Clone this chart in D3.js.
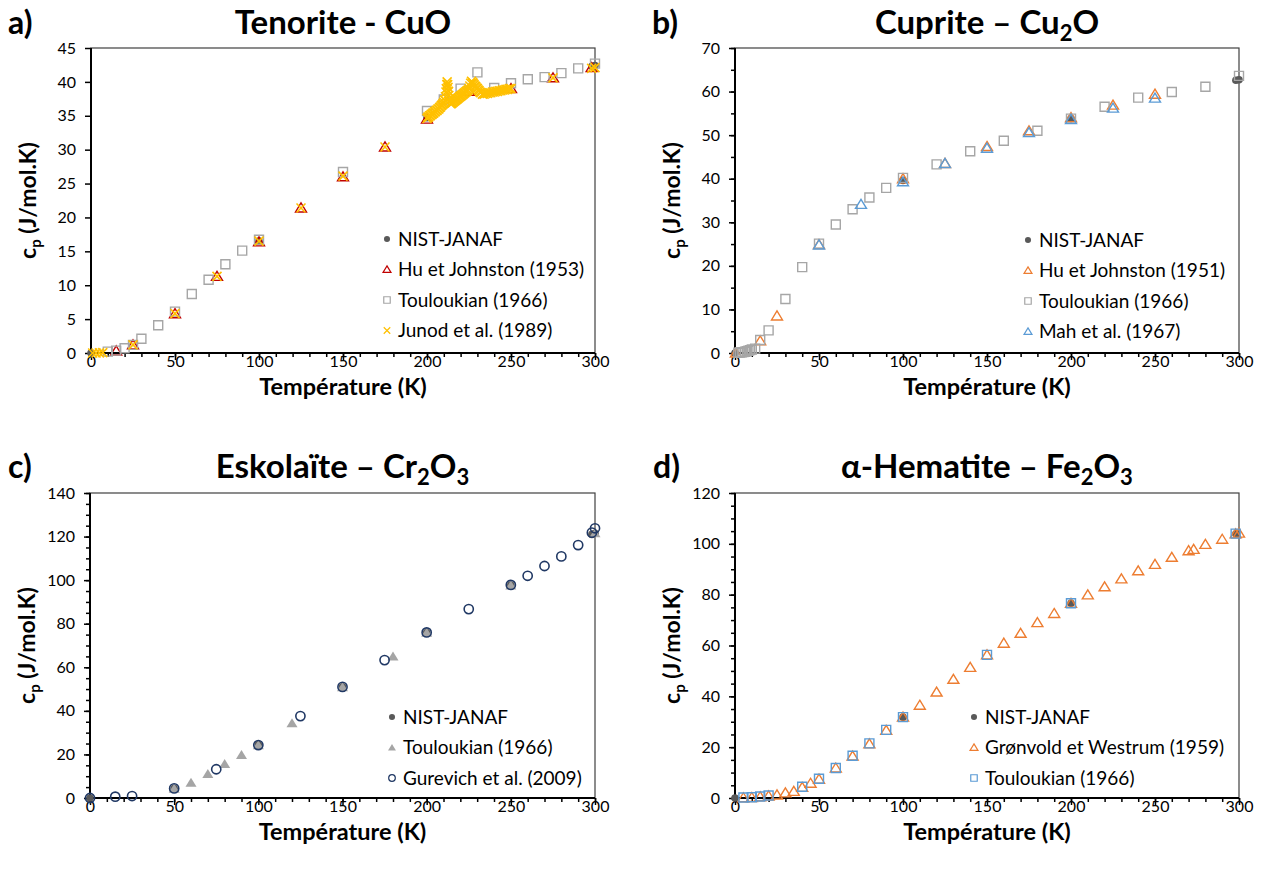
<!DOCTYPE html>
<html>
<head>
<meta charset="utf-8">
<script src="https://cdn.jsdelivr.net/npm/d3@7"></script>
<style>
  body { margin: 0; background: #fff; }
  text { font-family: Lato, "Open Sans", sans-serif; fill: #000; }
</style>
</head>
<body>
<script>
// cp (J/mol.K) against temperature (K): [T, cp]

// a) Tenorite - CuO
let cuoNist = [[0, 0], [100, 16.5], [200, 34.7], [298.15, 42.3], [300, 42.4]];
let cuoHu = [[15, 0.3], [25, 1.2], [50, 5.8], [75, 11.3], [100, 16.4], [125, 21.4], [150, 26.0],
  [175, 30.4], [200, 34.5], [225, 38.6], [250, 39.0], [275, 40.6], [298, 42.1]];
let cuoTouloukian = [[10, 0.2], [15, 0.35], [20, 0.7], [25, 1.2], [30, 2.1], [40, 4.1], [50, 6.1],
  [60, 8.7], [70, 10.8], [80, 13.1], [90, 15.1], [100, 16.7], [150, 26.7], [200, 35.7], [210, 37.4],
  [220, 39.0], [230, 41.4], [240, 39.1], [250, 39.8], [260, 40.4], [270, 40.7], [280, 41.3],
  [290, 42.0], [300, 42.7]];
let cuoJunod = [[1, 0], [3, 0], [5, 0.02], [7, 0.05], [25, 1.2], [50, 5.8], [75, 11.3], [100, 16.5],
  [125, 21.4], [150, 26.1], [175, 30.4],
  [200, 34.6], [200.5, 34.8], [201, 34.8], [201.5, 35.0], [202, 35.0], [202.5, 35.2], [203, 35.2],
  [203.5, 35.4], [204, 35.4], [204.5, 35.6], [205, 35.6], [205.5, 35.8], [206, 35.8], [206.5, 36.0],
  [207, 36.0], [207.5, 36.2], [208, 36.3], [208.5, 36.5], [209, 36.6], [209.5, 36.8], [210, 37.0],
  [210.5, 37.3], [211, 37.8], [211.3, 38.5], [211.5, 39.0], [211.8, 39.6], [212, 40.0],
  [212.3, 39.6], [212.5, 39.2], [212.8, 38.6], [213, 38.0], [213.5, 37.2], [214, 36.8],
  [214.5, 36.8], [215, 36.9], [215.5, 37.0], [216, 37.1], [216.5, 37.2], [217, 37.3], [217.5, 37.4],
  [218, 37.5], [218.5, 37.6], [219, 37.7], [219.5, 37.8], [220, 37.9], [220.5, 38.0], [221, 38.1],
  [221.5, 38.2], [222, 38.3], [222.5, 38.4], [223, 38.5], [223.5, 38.6], [224, 38.7], [224.5, 38.8],
  [225, 39.0], [225.5, 39.4], [226, 39.8], [226.5, 40.1], [227, 39.9], [227.5, 39.8], [228, 39.6],
  [228.5, 39.4], [229, 39.3], [229.5, 39.1], [230, 39.0], [230.5, 38.8], [231, 38.7], [231.5, 38.5],
  [232, 38.4], [233, 38.2], [234, 38.2], [235, 38.3], [236, 38.3], [237, 38.4], [238, 38.4],
  [239, 38.5], [240, 38.5], [241, 38.6], [242, 38.6], [243, 38.7], [244, 38.7], [245, 38.8],
  [246, 38.8], [247, 38.9], [248, 38.9], [249, 39.0], [250, 39.0],
  [275, 40.6], [298, 42.0], [300, 42.1]];

// b) Cuprite - Cu2O
let cu2oNist = [[0, 0], [100, 39.6], [200, 53.8], [298.15, 62.6], [300, 62.7]];
let cu2oHu = [[0.5, 0], [15, 2.8], [25, 8.5], [50, 24.9], [100, 40.0], [125, 43.5], [150, 47.4],
  [175, 51.0], [200, 54.0], [225, 56.9], [250, 59.4]];
let cu2oTouloukian = [[2, 0.05], [3, 0.1], [4, 0.15], [5, 0.2], [6, 0.3], [7, 0.4], [8, 0.5],
  [9, 0.65], [10, 0.8], [12, 1.0], [15, 3.0], [20, 5.2], [30, 12.4], [40, 19.7], [50, 25.1],
  [60, 29.5], [70, 33.0], [80, 35.7], [90, 37.9], [100, 40.2], [120, 43.3], [140, 46.3],
  [160, 48.7], [180, 51.0], [200, 53.8], [220, 56.5], [240, 58.6], [260, 59.9], [280, 61.1],
  [300, 63.6]];
let cu2oMah = [[50, 24.8], [75, 34.1], [100, 39.3], [125, 43.5], [150, 47.0], [175, 50.6],
  [200, 53.6], [225, 56.2], [250, 58.5]];

// c) Eskolaïte - Cr2O3
let cr2o3Nist = [[0, 0], [50, 4.4], [100, 24.5], [150, 51.0], [200, 76.0], [250, 97.8],
  [298.15, 121.0], [300, 121.5]];
let cr2o3Touloukian = [[50, 4.2], [60, 7.0], [70, 11.0], [80, 15.6], [90, 19.7], [100, 24.2],
  [120, 34.3], [150, 50.8], [180, 64.9], [200, 75.8], [250, 97.5], [300, 121.5]];
let cr2o3Gurevich = [[0, 0], [15, 0.6], [25, 0.9], [50, 4.4], [75, 13.2], [100, 24.3], [125, 37.6],
  [150, 51.0], [175, 63.3], [200, 76.0], [225, 86.7], [250, 97.8], [260, 102.0], [270, 106.5],
  [280, 110.9], [290, 116.1], [298.15, 121.8], [300, 123.8]];

// d) alpha-Hematite - Fe2O3
let fe2o3Nist = [[0, 0], [100, 31.8], [200, 76.6], [298.15, 103.9]];
let fe2o3Gronvold = [[5, 0.1], [10, 0.2], [15, 0.5], [20, 0.8], [25, 1.2], [30, 2.0], [35, 2.6],
  [40, 4.2], [45, 5.8], [50, 7.4], [60, 11.8], [70, 16.5], [80, 21.3], [90, 26.6], [100, 31.8],
  [110, 36.5], [120, 41.7], [130, 46.7], [140, 51.4], [150, 56.3], [160, 60.9], [170, 64.8],
  [180, 69.0], [190, 72.6], [200, 76.6], [210, 79.9], [220, 83.1], [230, 86.2], [240, 89.4],
  [250, 91.9], [260, 94.7], [270, 97.3], [273, 97.8], [280, 99.8], [290, 101.8], [298, 103.9],
  [300, 104.2]];
let fe2o3Touloukian = [[5, 0.2], [10, 0.3], [15, 0.6], [20, 1.0], [40, 4.4], [50, 7.6], [60, 11.8],
  [70, 16.6], [80, 21.5], [90, 26.8], [100, 31.8], [150, 56.3], [200, 76.6], [298, 104.0]];

let xTicks = [0, 50, 100, 150, 200, 250, 300];

// marker shapes, centred on 0,0
function markerPath(shape, k) {
  if (shape == "triangle") return `M0,${-5 * k}L${5.5 * k},${4 * k}L${-5.5 * k},${4 * k}Z`;
  if (shape == "square") return `M${-4.5 * k},${-4.5 * k}h${9 * k}v${9 * k}h${-9 * k}Z`;
  if (shape == "x") return `M${-4.5 * k},${-4.5 * k}L${4.5 * k},${4.5 * k}M${4.5 * k},${-4.5 * k}L${-4.5 * k},${4.5 * k}`;
  let r = (shape == "ring" ? 4.6 : 3.8) * k;
  return `M${r},0A${r},${r} 0 1,1 ${-r},0A${r},${r} 0 1,1 ${r},0Z`;
}

let nist = {name: "NIST-JANAF", shape: "dot", stroke: "none", fill: "#595959"};

let panels = [
  {left: 91, top: 48, width: 504, height: 305, yMax: 45, yMajor: 5, yMinor: 0,
   letter: "a)", title: [["Tenorite - CuO", 0]], row: 0,
   legend: {x: 296, y: 191, dy: 30.5},
   series: [
     Object.assign({data: cuoNist}, nist),
     {name: "Hu et Johnston (1953)", data: cuoHu, shape: "triangle", stroke: "#C00000", fill: "none"},
     {name: "Touloukian (1966)", data: cuoTouloukian, shape: "square", stroke: "#A6A6A6", fill: "none"},
     {name: "Junod et al. (1989)", data: cuoJunod, shape: "x", stroke: "#FFC000", fill: "none"}]},
  {left: 735, top: 48, width: 504, height: 305, yMax: 70, yMajor: 10, yMinor: 5,
   letter: "b)", title: [["Cuprite – Cu", 0], ["2", 1], ["O", 0]], row: 0,
   legend: {x: 293, y: 192, dy: 30.5},
   series: [
     Object.assign({data: cu2oNist}, nist),
     {name: "Hu et Johnston (1951)", data: cu2oHu, shape: "triangle", stroke: "#ED7D31", fill: "none"},
     {name: "Touloukian (1966)", data: cu2oTouloukian, shape: "square", stroke: "#A6A6A6", fill: "none"},
     {name: "Mah et al. (1967)", data: cu2oMah, shape: "triangle", stroke: "#5B9BD5", fill: "none"}]},
  {left: 90, top: 493, width: 505, height: 305, yMax: 140, yMajor: 20, yMinor: 5,
   letter: "c)", title: [["Eskolaïte – Cr", 0], ["2", 1], ["O", 0], ["3", 1]], row: 1,
   legend: {x: 302, y: 224, dy: 30.5},
   series: [
     Object.assign({data: cr2o3Nist}, nist),
     {name: "Touloukian (1966)", data: cr2o3Touloukian, shape: "triangle", stroke: "none", fill: "#A5A5A5"},
     {name: "Gurevich et al. (2009)", data: cr2o3Gurevich, shape: "ring", stroke: "#203864", fill: "none"}]},
  {left: 735, top: 493, width: 504, height: 305, yMax: 120, yMajor: 20, yMinor: 5,
   letter: "d)", title: [["α-Hematite – Fe", 0], ["2", 1], ["O", 0], ["3", 1]], row: 1,
   legend: {x: 239, y: 224, dy: 30.5},
   series: [
     Object.assign({data: fe2o3Nist}, nist),
     {name: "Grønvold et Westrum (1959)", data: fe2o3Gronvold, shape: "triangle", stroke: "#ED7D31", fill: "none"},
     {name: "Touloukian (1966)", data: fe2o3Touloukian, shape: "square", stroke: "#5B9BD5", fill: "none"}]}
];

let svg = d3.select("body").append("svg")
  .attr("width", 1266)
  .attr("height", 872);

panels.forEach(function(p) {
  let x = d3.scaleLinear().domain([0, 300]).range([0, p.width]);
  let y = d3.scaleLinear().domain([0, p.yMax]).range([p.height, 0]);

  let g = svg.append("g")
    .attr("transform", "translate(" + p.left + "," + p.top + ")");

  // plot frame (thin top / right)
  g.append("rect")
    .attr("width", p.width).attr("height", p.height)
    .attr("fill", "none").attr("stroke", "#404040").attr("stroke-width", 1.2);

  // x axis: minor every 10, major every 50
  g.append("g")
    .attr("transform", "translate(0," + p.height + ")")
    .call(d3.axisBottom(x).tickValues(d3.range(0, 301, 10)).tickSize(4).tickFormat(""))
    .call(a => a.select(".domain").remove());
  g.append("g")
    .attr("transform", "translate(0," + p.height + ")")
    .call(d3.axisBottom(x).tickValues(xTicks).tickSize(7))
    .call(a => a.select(".domain").remove())
    .call(a => a.selectAll(".tick text").attr("y", 3));   // labels sit tight under the axis

  // y axis
  if (p.yMinor) {
    g.append("g")
      .call(d3.axisLeft(y).tickValues(d3.range(0, p.yMax + 0.1, p.yMinor)).tickSize(4).tickFormat(""))
      .call(a => a.select(".domain").remove());
  }
  g.append("g")
    .call(d3.axisLeft(y).tickValues(d3.range(0, p.yMax + 0.1, p.yMajor)).tickSize(6).tickPadding(9))
    .call(a => a.select(".domain").remove());

  g.selectAll(".tick line").attr("stroke", "#000").attr("stroke-width", 1.5);
  g.selectAll(".tick text")
    .attr("font-family", "Lato, sans-serif")
    .attr("font-size", 16)
    .attr("fill", "#000");

  // thick left / bottom axis lines
  g.append("line").attr("x1", 0).attr("x2", 0).attr("y1", 0).attr("y2", p.height)
    .attr("stroke", "#000").attr("stroke-width", 2);
  g.append("line").attr("x1", 0).attr("x2", p.width).attr("y1", p.height).attr("y2", p.height)
    .attr("stroke", "#000").attr("stroke-width", 2);

  // data points
  p.series.forEach(function(s) {
    g.append("g").selectAll("path")
      .data(s.data)
      .join("path")
      .attr("transform", d => "translate(" + x(d[0]) + "," + y(d[1]) + ")")
      .attr("d", markerPath(s.shape, 1))
      .attr("fill", s.fill)
      .attr("stroke", s.stroke)
      .attr("stroke-width", s.shape == "ring" ? 1.6 : (s.shape == "x" ? 1.6 : 1.4));
  });

  // legend
  let lg = g.append("g")
    .attr("transform", "translate(" + p.legend.x + "," + p.legend.y + ")");
  p.series.forEach(function(s, i) {
    lg.append("path")
      .attr("transform", "translate(0," + (i * p.legend.dy) + ")")
      .attr("d", markerPath(s.shape, s.shape == "dot" ? 0.8 : 0.72))
      .attr("fill", s.fill)
      .attr("stroke", s.stroke)
      .attr("stroke-width", 1.2);
    lg.append("text")
      .attr("x", 11)
      .attr("y", i * p.legend.dy)
      .attr("dy", "0.35em")
      .attr("font-size", 19)
      .attr("fill", "#1a1a1a")
      .text(s.name);
  });

  // panel letter and title
  let base = p.row == 0 ? 34 : 478;
  svg.append("text")
    .attr("x", p.left - 83 + (p.row == 0 ? 0 : 1))
    .attr("y", base)
    .attr("font-size", 32)
    .attr("font-weight", "bold")
    .text(p.letter);
  let t = svg.append("text")
    .attr("x", p.left + p.width / 2)
    .attr("y", base)
    .attr("text-anchor", "middle")
    .attr("font-size", 33)
    .attr("font-weight", "bold");
  let down = 0;
  p.title.forEach(function(seg) {
    let shift = seg[1] ? 7 : 0;
    t.append("tspan")
      .attr("dy", shift - down)
      .attr("font-size", seg[1] ? 22 : 33)
      .text(seg[0]);
    down = shift;
  });

  // axis titles
  svg.append("text")
    .attr("x", p.left + p.width / 2)
    .attr("y", p.top + p.height + 42)
    .attr("text-anchor", "middle")
    .attr("font-size", 23.5)
    .attr("font-weight", "bold")
    .text("Température (K)");
  let yl = svg.append("text")
    .attr("transform", "translate(" + (p.left - 55) + "," + (p.top + p.height / 2) + ") rotate(-90)")
    .attr("text-anchor", "middle")
    .attr("font-size", 23)
    .attr("font-weight", "bold");
  yl.append("tspan").text("c");
  yl.append("tspan").attr("font-size", 15).attr("dy", 5).text("p");
  yl.append("tspan").attr("dy", -5).text(" (J/mol.K)");
});
</script>
</body>
</html>
